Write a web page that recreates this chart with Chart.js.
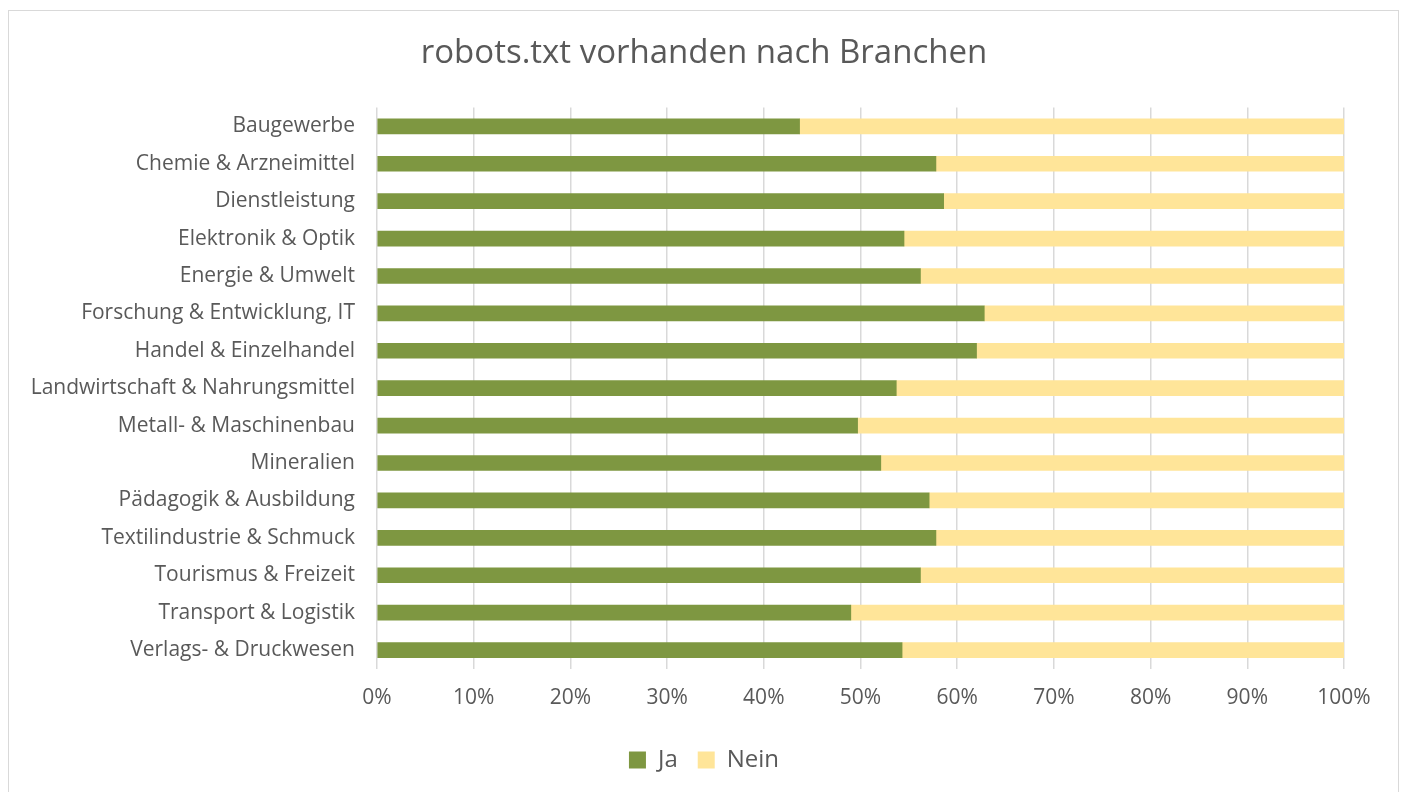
<!DOCTYPE html>
<html>
<head>
<meta charset="utf-8">
<script src="https://cdn.jsdelivr.net/npm/chart.js@4"></script>
<style>
  body { margin: 0; background: #fff; }
  #frame { position: absolute; left: 8px; top: 10px; width: 1389px; height: 800px; border: 1px solid #d9d9d9; }
  #wrap { position: absolute; left: 0; top: 0; width: 1406px; height: 792px; }
</style>
</head>
<body>
<div id="frame"></div>
<div id="wrap"><canvas id="chart" width="1406" height="792"></canvas></div>
<script>
// Daten: Anteil robots.txt vorhanden (Ja) je Branche, in %
const branchen = [
  'Baugewerbe', 'Chemie & Arzneimittel', 'Dienstleistung', 'Elektronik & Optik',
  'Energie & Umwelt', 'Forschung & Entwicklung, IT', 'Handel & Einzelhandel',
  'Landwirtschaft & Nahrungsmittel', 'Metall- & Maschinenbau', 'Mineralien',
  'Pädagogik & Ausbildung', 'Textilindustrie & Schmuck', 'Tourismus & Freizeit',
  'Transport & Logistik', 'Verlags- & Druckwesen'
];
const ja = [43.7, 57.8, 58.6, 54.5, 56.2, 62.8, 62.0, 53.7, 49.7, 52.1, 57.1, 57.8, 56.2, 49.0, 54.3];
const nein = ja.map(v => +(100 - v).toFixed(1));
const xTicks = [0, 10, 20, 30, 40, 50, 60, 70, 80, 90, 100];

const schrift = "'Open Sans', sans-serif";
const grau = '#595959';

const ctx = document.getElementById('chart').getContext('2d');
new Chart(ctx, {
    type: 'bar',
    data: {
        labels: branchen,
        datasets: [{
            label: 'Ja',
            data: ja,
            backgroundColor: '#7e9741',
            barThickness: 15
        }, {
            label: 'Nein',
            data: nein,
            backgroundColor: '#ffe599',
            barThickness: 15
        }]
    },
    options: {
        indexAxis: 'y',
        responsive: false,
        animation: false,
        layout: { padding: { left: 2, right: 0, top: 0, bottom: 10 } },
        plugins: {
            title: {
                display: true,
                text: 'robots.txt vorhanden nach Branchen',
                color: grau,
                font: { family: schrift, size: 33, weight: 'normal' },
                padding: { top: 34, bottom: 34 }
            },
            legend: {
                position: 'bottom',
                labels: {
                    color: grau,
                    font: { family: schrift, size: 24 },
                    boxWidth: 17,
                    boxHeight: 17,
                    padding: 20
                }
            },
            tooltip: { enabled: false }
        },
        scales: {
            x: {
                stacked: true,
                min: 0,
                max: 100,
                afterBuildTicks: axis => { axis.ticks = xTicks.map(v => ({ value: v })); },
                ticks: {
                    color: grau,
                    font: { family: schrift, size: 21 },
                    callback: v => v + '%',
                    padding: 17
                },
                grid: { color: '#d9d9d9', lineWidth: 1.5, drawTicks: false },
                border: { display: false }
            },
            y: {
                stacked: true,
                afterFit: axis => { axis.width = 375; },
                ticks: {
                    color: grau,
                    font: { family: schrift, size: 21 },
                    padding: 14
                },
                grid: { display: false },
                border: { display: false }
            },
            // leere Achse rechts als Rand
            yRand: {
                type: 'category',
                position: 'right',
                afterFit: axis => { axis.width = 62; },
                ticks: { display: false },
                grid: { display: false },
                border: { display: false }
            }
        }
    }
});
</script>
</body>
</html>
